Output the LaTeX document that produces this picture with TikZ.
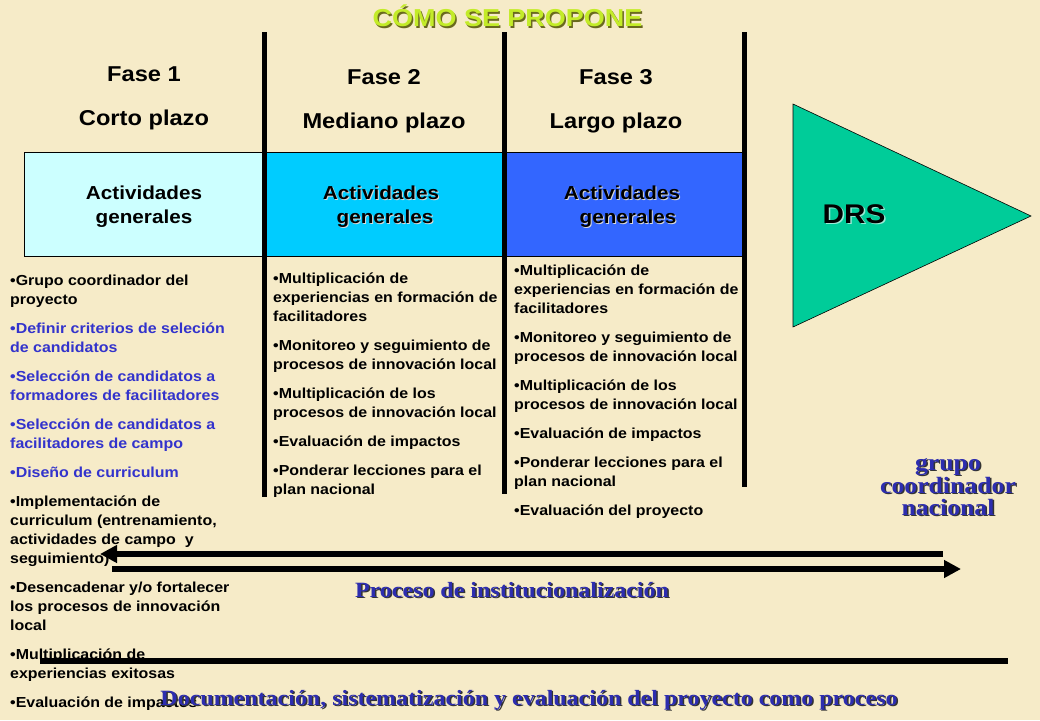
\documentclass[tikz,border=0pt]{standalone}
\usepackage{fontspec}
\setmainfont{Liberation Sans}[FakeStretch=1.1]
\newfontfamily\serifbf{Liberation Serif}[FakeStretch=1.1]
\usetikzlibrary{arrows.meta}
\definecolor{bg}{RGB}{246,235,200}
\definecolor{boxA}{RGB}{204,255,255}
\definecolor{boxB}{RGB}{0,204,255}
\definecolor{boxC}{RGB}{51,102,255}
\definecolor{drsgreen}{RGB}{0,204,153}
\definecolor{titlecol}{RGB}{195,235,40}
\definecolor{titleshd}{RGB}{105,105,30}
\definecolor{itemblue}{RGB}{51,51,204}
\definecolor{serifblue}{RGB}{45,45,175}
\newcommand\shtext[3]{\leavevmode\rlap{\kern#1\raisebox{-#1}[0pt][0pt]{\textcolor{#2}{#3}}}#3}
\begin{document}
\begin{tikzpicture}[x=1pt,y=-1pt,
  phase/.style={inner sep=0pt, anchor=base, font=\bfseries\fontsize{21.5}{24}\selectfont},
  boxlabel/.style={inner sep=0pt, anchor=base, font=\bfseries\fontsize{18.8}{22}\selectfont},
  phasebox/.style={draw=black, line width=0.8pt, inner sep=0pt, anchor=north west, minimum height=104pt},
  items/.style={inner sep=0pt, anchor=north west, align=left, font=\bfseries\fontsize{14.5}{19}\selectfont},
  divider/.style={line width=5pt},
  thickarrow/.style={line width=6pt, -{Triangle[length=17pt,width=17pt]}},
  seriftext/.style={inner sep=0pt, anchor=base, text=serifblue, font=\serifbf\bfseries\fontsize{#1}{#1}\selectfont},
  titletext/.style={inner sep=0pt, anchor=base, text=titlecol, font=\bfseries\fontsize{24.5}{26}\selectfont}
]
\fill[bg] (0,0) rectangle (1040,720);
\useasboundingbox (0,0) rectangle (1040,720);

% title
\node[titletext] (title) at (507.5,27) {\shtext{1.5pt}{titleshd}{CÓMO SE PROPONE}};

% phase headings
\node[phase] (f1) at (144,81) {Fase 1};
\node[phase] (p1) at (144,125) {Corto plazo};
\node[phase] (f2) at (384,84) {Fase 2};
\node[phase] (p2) at (384,128) {Mediano plazo};
\node[phase] (f3) at (616,84) {Fase 3};
\node[phase] (p3) at (616,128) {Largo plazo};

% boxes
\node[phasebox, fill=boxA, minimum width=240pt] (b1) at (24,152) {};
\node[phasebox, fill=boxB, minimum width=240pt] (b2) at (264,152) {};
\node[phasebox, fill=boxC, minimum width=239pt] (b3) at (504,152) {};

\node[boxlabel] (a1) at (144,199) {Actividades};
\node[boxlabel] (g1) at (144,223) {generales};
\node[boxlabel] (a2) at (381,199) {\shtext{1pt}{white!70!gray}{Actividades}};
\node[boxlabel] (g2) at (385,223) {\shtext{1pt}{white!70!gray}{generales}};
\node[boxlabel] (a3) at (622,199) {\shtext{1pt}{white!70!gray}{Actividades}};
\node[boxlabel] (g3) at (628,223) {\shtext{1pt}{white!70!gray}{generales}};

% dividers
\coordinate (v1t) at (264,32); \coordinate (v1b) at (264,497);
\coordinate (v2t) at (504,32); \coordinate (v2b) at (504,494);
\coordinate (v3t) at (744,32); \coordinate (v3b) at (744,487);
\draw[divider] (v1t) -- (v1b);
\draw[divider] (v2t) -- (v2b);
\draw[divider] (v3t) -- (v3b);

% DRS triangle
\coordinate (t1) at (793,104);
\coordinate (t2) at (1031,216);
\coordinate (t3) at (793,327);
\draw[fill=drsgreen, draw=black, line width=0.6pt] (t1) -- (t2) -- (t3) -- cycle;
\node[inner sep=0pt, anchor=base, font=\bfseries\fontsize{27}{30}\selectfont] (drs) at (854,223) {\shtext{1.5pt}{white!60!drsgreen}{DRS}};

% activity lists
\node[items] (c1) at (10,274.4) {%
•Grupo coordinador del\\
proyecto\\[10pt]
\textcolor{itemblue}{•Definir criterios de seleción}\\
\textcolor{itemblue}{de candidatos}\\[10pt]
\textcolor{itemblue}{•Selección de candidatos a}\\
\textcolor{itemblue}{formadores de facilitadores}\\[10pt]
\textcolor{itemblue}{•Selección de candidatos a}\\
\textcolor{itemblue}{facilitadores de campo}\\[10pt]
\textcolor{itemblue}{•Diseño de curriculum}\\[10pt]
•Implementación de\\
curriculum (entrenamiento,\\
actividades de campo\ \ y\\
seguimiento)\\[10pt]
•Desencadenar y/o fortalecer\\
los procesos de innovación\\
local\\[10pt]
•Multiplicación de\\
experiencias exitosas\\[10pt]
•Evaluación de impactos};

\node[items] (c2) at (273,272.4) {%
•Multiplicación de\\
experiencias en formación de\\
facilitadores\\[10pt]
•Monitoreo y seguimiento de\\
procesos de innovación local\\[10pt]
•Multiplicación de los\\
procesos de innovación local\\[10pt]
•Evaluación de impactos\\[10pt]
•Ponderar lecciones para el\\
plan nacional};

\node[items] (c3) at (514,264.4) {%
•Multiplicación de\\
experiencias en formación de\\
facilitadores\\[10pt]
•Monitoreo y seguimiento de\\
procesos de innovación local\\[10pt]
•Multiplicación de los\\
procesos de innovación local\\[10pt]
•Evaluación de impactos\\[10pt]
•Ponderar lecciones para el\\
plan nacional\\[10pt]
•Evaluación del proyecto};

% grupo coordinador nacional
\node[seriftext=23.4] (gr1) at (948,470) {\shtext{1.5pt}{black!80}{grupo}};
\node[seriftext=23.4] (gr2) at (948,493) {\shtext{1.5pt}{black!80}{coordinador}};
\node[seriftext=23.4] (gr3) at (948,515) {\shtext{1.5pt}{black!80}{nacional}};

% arrows
\coordinate (la1) at (943,554); \coordinate (la2) at (100,554);
\coordinate (ra1) at (112,569); \coordinate (ra2) at (961,569);
\draw[thickarrow] (la1) -- (la2);
\draw[thickarrow] (ra1) -- (ra2);
\node[seriftext=21.8] (proc) at (512,597) {\shtext{1.5pt}{black!80}{Proceso de institucionalización}};

\coordinate (l1) at (40,661); \coordinate (l2) at (1008,661);
\draw[line width=6pt] (l1) -- (l2);
\node[seriftext=21.8] (doc) at (529,705) {\shtext{1.5pt}{black!80}{Documentación, sistematización y evaluación del proyecto como proceso}};
\end{tikzpicture}
\end{document}
